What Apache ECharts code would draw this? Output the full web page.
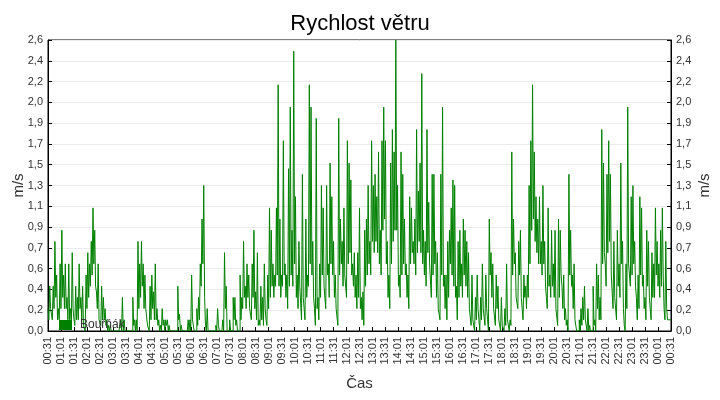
<!DOCTYPE html>
<html>
<head>
<meta charset="utf-8">
<script src="https://cdn.jsdelivr.net/npm/echarts@6/dist/echarts.min.js"></script>
<style>html,body{margin:0;padding:0;background:#fff}#c{width:720px;height:400px}</style>
</head>
<body>
<div id="c"></div>
<script>
var chartTitle = 'Rychlost větru';
var seriesName = 'Bouřňák';
var yAxisName = 'm/s';
var xAxisName = 'Čas';
var stepMinutes = 2; // minutes between samples, starting at 00:31
var xTickLabels = ['00:31','01:01','01:31','02:01','02:31','03:01','03:31','04:01','04:31','05:01','05:31','06:01','06:31','07:01','07:31','08:01','08:31','09:01','09:31','10:01','10:31','11:01','11:31','12:01','12:31','13:01','13:31','14:01','14:31','15:01','15:31','16:01','16:31','17:01','17:31','18:01','18:31','19:01','19:31','20:01','20:31','21:01','21:31','22:01','22:31','23:01','23:31','00:01','00:31'];
var yMax = 2.6;
var ySteps = 14;
// readings at 00:31 + 4k minutes
var windSpeedA = [
0.2,0.4,0.15,0.4,0.8,0.5,0.2,0.6,0.9,0.5,
0.6,0.3,0.6,0.2,0.7,0.1,0.4,0.3,0.6,0.3,
0.4,0.05,0.5,0.7,0.6,0.8,1.1,0.9,0.35,0.6,
0.1,0.4,0.3,0.2,0.1,0.05,0.05,0,0,0,
0,0,0.1,0.3,0.1,0,0,0,0,0.3,
0.1,0.1,0.8,0.6,0.8,0.6,0.5,0.2,
0.05,0.4,0.5,0.35,0.6,0.2,0.1,0.05,0.2,0.1,
0.1,0.1,0.05,0,0,0,0,0.4,0.15,0.05,
0,0,0,0.1,0.1,0.5,0.1,0,0.2,0.3,
0.6,1.0,1.3,0.05,0.2,0,0,0,0,0.05,
0.2,0,0,0.1,0.7,0.4,0,0.1,0,0.3,
0.3,0.1,0,0.5,0.3,0.8,0.4,0.6,0.5,0.2,
0.6,0.9,0.35,0.7,0.1,0.4,0.3,0.6,0.1,0.5,
1.1,0.9,0.6,0.5,1.1,2.2,1.0,0.5,1.7,0.6,
0.5,1.45,2.0,0.9,2.5,1.2,0.5,0.8,0.4,1.4,
0.3,1.0,0.5,2.2,2.0,0.8,0.2,1.9,0.3,0.6,
1.3,1.1,0.4,1.3,0.6,1.5,1.2,0.8,0.5,0.2,
1.9,1.0,0.8,1.1,0.5,1.7,1.5,1.35,0.6,0.7,
0.5,0.7,1.1,0.3,0.35,0.9,1.0,1.3,0.8,1.7,
1.3,1.4,1.2,1.6,0.9,1.7,2.0,1.7,0.8,0.5,
1.5,1.8,1.6,2.6,1.3,0.5,1.6,1.4,1.0,0.6,
0.5,1.2,1.1,0.8,1.0,1.8,1.25,1.5,2.3,0.9,
0.8,1.8,1.15,0.6,1.4,1.4,0.8,0.7,0.2,1.4,
2.0,0.5,0.5,0.8,0.9,1.1,1.35,1.3,0.4,0.8,
0.9,0.6,1.0,0.9,0.8,0.7,0.2,0.5,0.1,0.3,
0.5,0.1,0.3,0.6,0.2,0.5,0.1,1.0,0.7,0.6,
0.2,0.5,0.4,0.1,0.3,0.05,0.2,0.6,0.1,0.1,
1.6,1.0,0.7,0.3,0.8,0.9,0.3,0.5,0.4,0.5,
1.3,1.7,2.2,1.6,1.2,1.0,1.2,0.8,1.3,0.8,
0.3,1.1,0.5,0.9,0.6,0.9,0.2,1.0,0.9,0.4,
0.5,0.2,0.1,1.4,0.9,0.5,0.6,0.1,0,0.1,
0.2,0.3,0.4,0.1,0.2,0.05,0,0.4,0.1,0.6,
0.5,0.3,1.8,1.5,0.6,1.4,1.7,1.4,0.5,0.8,
0.3,0.9,0.6,1.5,0.8,0.05,0.6,2.0,0.6,1.2,
1.3,0.8,0.3,0.5,1.2,1.1,0.5,0.3,0.9,0.8,
0.3,0.7,0.6,1.1,0.8,0.6,0.9,1.1,0.2,0.8,
0.1,0.1,0.1
];
// readings at 00:33 + 4k minutes (the dips between the readings above)
var windSpeedB = [
0.1,0.2,0.1,0.2,0.3,0.1,0.1,0.2,0.3,0.2,
0.2,0.1,0.1,0.05,0.2,0.05,0.1,0.1,0.2,0.1,
0.05,0,0.2,0.3,0.4,0.5,0.6,0.4,0.2,0.1,
0.05,0.1,0.1,0.05,0,0,0,0,0,0,
0,0,0,0,0,0,0,0,0,0.05,
0,0,0.2,0.3,0.4,0.2,0.2,0.05,0,0.1,
0.2,0.1,0.1,0.05,0,0,0.05,0,0.05,0,
0,0,0,0,0,0.1,0,0,0,0,
0,0,0,0.1,0,0,0.05,0.1,0.4,0.6,
0.3,0,0,0,0,0,0,0,0.05,0,
0,0,0.2,0,0,0,0,0.1,0.05,0,
0,0.1,0.2,0.3,0.2,0.3,0.2,0.1,0.3,0.2,
0.1,0.05,0.05,0.1,0.05,0.2,0.05,0.2,0.3,0.4,
0.3,0.4,0.5,0.4,0.3,0.4,0.5,0.3,0.2,0.4,
0.5,0.4,0.6,0.3,0.2,0.4,0.1,0.3,0.1,0.3,
0.4,0.6,0.5,0.3,0.05,0.2,0.1,0.3,0.5,0.4,
0.2,0.5,0.3,0.6,0.5,0.3,0.2,0.05,0.5,0.6,
0.4,0.5,0.3,0.6,0.7,0.5,0.4,0.3,0.2,0.3,
0.2,0.1,0.05,0.4,0.5,0.6,0.5,0.8,0.7,0.8,
0.7,0.6,0.5,0.9,1.0,0.6,0.3,0.2,0.6,0.8,
0.9,0.9,0.4,0.3,0.5,0.6,0.5,0.3,0.2,0.6,
0.7,0.6,0.5,0.7,0.8,0.7,0.6,0.5,0.4,0.7,
0.6,0.3,0.5,0.6,0.3,0.2,0.1,0.5,0.4,0.2,
0.1,0.3,0.6,0.5,0.4,0.3,0.1,0.3,0.4,0.3,
0.5,0.4,0.3,0.2,0.05,0.1,0,0.1,0.2,0,
0.1,0.2,0.05,0.2,0,0.5,0.3,0.2,0.05,0.2,
0.1,0,0.05,0,0.05,0.1,0,0.05,0.5,0.6,
0.3,0.2,0.5,0.3,0.1,0.3,0.2,0.3,0.6,0.9,
1.0,0.8,0.7,0.6,0.6,0.5,0.6,0.4,0.2,0.4,
0.3,0.4,0.3,0.2,0.05,0.3,0.5,0.2,0.1,0.05,
0,0.5,0.4,0.2,0.1,0,0,0,0.05,0.1,
0.1,0,0,0,0,0.05,0,0.2,0.1,0.1,
0.6,0.7,0.4,0.7,0.8,0.5,0.2,0.3,0.1,0.4,
0.3,0.6,0.2,0,0.2,0.6,0.4,0.5,0.6,0.4,
0.1,0.2,0.5,0.4,0.2,0.1,0.4,0.3,0.1,0.3,
0.3,0.5,0.4,0.3,0.4,0.5,0.1,0.2,0.1,0.1
];

var seriesData = [];
for (var i = 0; i < windSpeedA.length; i++) {
  seriesData.push([2 * i * stepMinutes, windSpeedA[i]]);
  if (i < windSpeedB.length) seriesData.push([(2 * i + 1) * stepMinutes, windSpeedB[i]]);
}
var xSpan = (xTickLabels.length - 1) * 30;
var font = 'Liberation Sans, Arial, sans-serif';
function yFmt(v) { return v.toFixed(1).replace('.', ','); }
function yAxisCfg(pos) {
  return {
    type: 'value', position: pos, min: 0, max: yMax, interval: yMax / ySteps,
    name: yAxisName, nameLocation: 'middle', nameRotate: 90, nameGap: pos === 'left' ? 22 : 26,
    nameMoveOverlap: false,
    nameTextStyle: { fontFamily: font, fontSize: 15, color: '#333' },
    axisLine: { show: true, lineStyle: { color: '#000', width: 1 } },
    axisTick: { show: true, inside: true, length: 4, lineStyle: { color: '#000' } },
    axisLabel: { fontFamily: font, fontSize: 11, color: '#333', margin: 5, formatter: yFmt },
    splitLine: { show: pos === 'left', lineStyle: { color: '#ebebeb', width: 1 } }
  };
}
var chart = echarts.init(document.getElementById('c'), null, { renderer: 'canvas' });
chart.setOption({
  animation: false,
  backgroundColor: '#fff',
  title: { text: chartTitle, left: 'center', top: 8, textStyle: { fontFamily: font, fontSize: 22, fontWeight: 'normal', color: '#000' } },
  legend: {
    data: [seriesName], left: 54, top: 314, itemWidth: 13, itemHeight: 10, icon: 'rect',
    textStyle: { fontFamily: font, fontSize: 12, color: '#333', padding: [0, 0, 0, 3] }
  },
  grid: { left: 48, right: 49, top: 40, bottom: 69, containLabel: false, outerBoundsMode: 'none',
    show: true, borderColor: '#000', borderWidth: 1, backgroundColor: 'transparent' },
  xAxis: {
    type: 'value', min: 0, max: xSpan, interval: 30,
    name: xAxisName, nameLocation: 'middle', nameGap: 45, nameMoveOverlap: false,
    nameTextStyle: { fontFamily: font, fontSize: 15, color: '#333' },
    axisLine: { show: true, lineStyle: { color: '#000' } },
    axisTick: { show: true, inside: true, length: 4, lineStyle: { color: '#000' } },
    axisLabel: { rotate: 90, fontFamily: font, fontSize: 11, color: '#333', margin: 6,
      formatter: function (v) { var k = Math.round(v / 30); return (v % 30 === 0 && xTickLabels[k]) ? xTickLabels[k] : ''; } },
    splitLine: { show: false }
  },
  yAxis: [yAxisCfg('left'), yAxisCfg('right')],
  series: [{
    name: seriesName, type: 'line', step: 'end', data: seriesData,
    showSymbol: false, symbol: 'none', sampling: null,
    lineStyle: { color: '#008000', width: 1 }, itemStyle: { color: '#008000' }
  }]
});
</script>
</body>
</html>
